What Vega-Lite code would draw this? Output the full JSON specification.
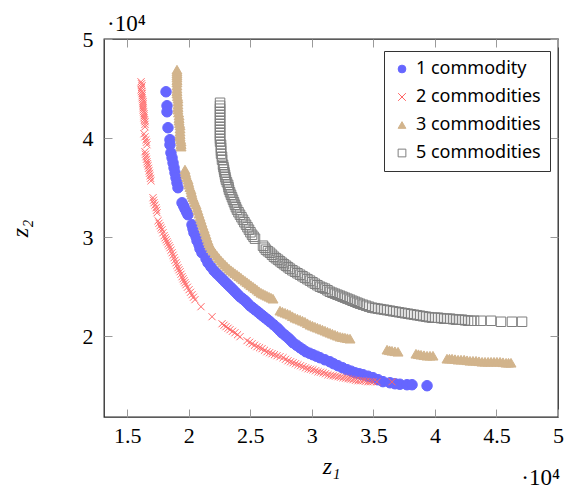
{
  "$schema": "https://vega.github.io/schema/vega-lite/v6.json",
  "width": 454,
  "height": 378,
  "autosize": {"type": "none"},
  "padding": {"left": 104, "top": 39, "right": 8, "bottom": 77},
  "background": "white",
  "config": {
    "view": {"stroke": "#262626", "strokeWidth": 1.3},
    "axis": {"grid": false, "domain": false, "tickColor": "#9a9a9a", "tickWidth": 1, "labelFlush": false, "labelOverlap": false, "labelBound": false, "labelFont": "Liberation Serif", "labelFontSize": 22, "labelFontWeight": "normal", "labelColor": "#000", "titleFont": "Liberation Serif", "titleFontSize": 24, "titleFontStyle": "italic", "titleFontWeight": "normal", "titleColor": "#000"},
    "legend": {"orient": "none", "legendX": 280, "legendY": 12, "strokeColor": "#333", "fillColor": "white", "padding": 9, "labelFont": "Noto Sans", "labelFontSize": 18, "labelColor": "#000", "symbolSize": 60, "symbolStrokeWidth": 1, "rowPadding": 10, "labelOffset": 5, "title": null}
  },
  "datasets": {
    "one": [
      {"x":18150,"y":44670},{"x":18230,"y":43260},{"x":18230,"y":42650},{"x":18310,"y":41040},{"x":18470,"y":39830},{"x":18470,"y":39320},
      {"x":18550,"y":38510},{"x":18640,"y":38010},{"x":18720,"y":37500},{"x":18800,"y":37000},{"x":18880,"y":36490},{"x":18960,"y":35990},{"x":19040,"y":35480},{"x":19120,"y":34980},
      {"x":19450,"y":33460},{"x":19570,"y":33160},{"x":19690,"y":32850},{"x":19810,"y":32550},{"x":19930,"y":32250},
      {"x":20260,"y":31240},{"x":20340,"y":30840},{"x":20420,"y":30430},{"x":20590,"y":30030},{"x":20670,"y":29630},{"x":20830,"y":29220},{"x":20910,"y":28820},{"x":21070,"y":28410},
      {"x":21400,"y":27810},{"x":21560,"y":27400},{"x":21800,"y":27000},{"x":22050,"y":26600},{"x":22290,"y":26290},
      {"x":22540,"y":25990},{"x":22740,"y":25740},{"x":22940,"y":25480},{"x":23150,"y":25230},{"x":23350,"y":24980},{"x":23560,"y":24730},{"x":23760,"y":24470},{"x":23960,"y":24220},{"x":24160,"y":23970},{"x":24370,"y":23770},{"x":24570,"y":23570},{"x":24770,"y":23320},{"x":24970,"y":23060},{"x":25180,"y":22860},{"x":25380,"y":22660},{"x":25590,"y":22460},{"x":25790,"y":22250},{"x":25990,"y":22050},{"x":26190,"y":21850},{"x":26400,"y":21650},{"x":26600,"y":21440},{"x":26890,"y":21140},{"x":27170,"y":20840},{"x":27370,"y":20590},{"x":27570,"y":20330},{"x":27820,"y":20080},{"x":28060,"y":19830},{"x":28270,"y":19580},{"x":28470,"y":19320},{"x":28760,"y":19070},{"x":29040,"y":18820},{"x":29280,"y":18620},{"x":29520,"y":18410},{"x":29810,"y":18260},{"x":30090,"y":18110},{"x":30380,"y":17960},{"x":30660,"y":17810},{"x":31060,"y":17600},{"x":31470,"y":17400},{"x":31770,"y":17200},{"x":32120,"y":17000},{"x":32490,"y":16800},{"x":32860,"y":16600},{"x":33190,"y":16450},{"x":33510,"y":16290},{"x":33840,"y":16190},{"x":34160,"y":16090},{"x":34560,"y":15940},{"x":34970,"y":15790},{"x":35380,"y":15590},{"x":35780,"y":15390},
      {"x":36350,"y":15280},{"x":36760,"y":15180},{"x":37150,"y":15130},{"x":37730,"y":15080},{"x":38140,"y":15080},{"x":39360,"y":14980}
    ],
    "two": [
      {"x":16120,"y":45680},{"x":16160,"y":45480},{"x":16200,"y":45280},{"x":16160,"y":45080},{"x":16120,"y":44870},{"x":16160,"y":44670},{"x":16200,"y":44470},{"x":16200,"y":44260},{"x":16200,"y":44060},{"x":16240,"y":43860},{"x":16280,"y":43660},{"x":16280,"y":43460},{"x":16280,"y":43260},{"x":16280,"y":43050},{"x":16280,"y":42850},{"x":16320,"y":42650},{"x":16360,"y":42450},{"x":16360,"y":42240},{"x":16360,"y":42040},{"x":16400,"y":41840},{"x":16440,"y":41640},{"x":16440,"y":41380},{"x":16440,"y":41130},
      {"x":16360,"y":40430},{"x":16440,"y":40120},{"x":16520,"y":39820},{"x":16560,"y":39570},{"x":16600,"y":39320},
      {"x":16440,"y":38610},{"x":16480,"y":38360},{"x":16520,"y":38110},{"x":16560,"y":37850},{"x":16600,"y":37600},{"x":16640,"y":37400},{"x":16690,"y":37200},{"x":16730,"y":36940},{"x":16770,"y":36690},{"x":16810,"y":36440},{"x":16850,"y":36190},{"x":16890,"y":35930},{"x":16930,"y":35680},
      {"x":17090,"y":33970},{"x":17130,"y":33710},{"x":17170,"y":33460},{"x":17250,"y":33210},{"x":17340,"y":32960},{"x":17380,"y":32700},{"x":17420,"y":32450},
      {"x":17500,"y":31640},{"x":17580,"y":31390},{"x":17660,"y":31140},{"x":17740,"y":30930},{"x":17820,"y":30730},{"x":17900,"y":30430},{"x":17990,"y":30130},{"x":18070,"y":29920},{"x":18150,"y":29720},{"x":18230,"y":29520},{"x":18310,"y":29320},{"x":18390,"y":29120},{"x":18470,"y":28920},{"x":18550,"y":28660},{"x":18640,"y":28410},{"x":18720,"y":28160},{"x":18800,"y":27910},{"x":18880,"y":27650},{"x":18960,"y":27400},{"x":19040,"y":27150},{"x":19120,"y":26900},{"x":19200,"y":26690},{"x":19290,"y":26490},{"x":19370,"y":26240},{"x":19450,"y":25990},{"x":19530,"y":25780},{"x":19610,"y":25580},{"x":19690,"y":25380},{"x":19770,"y":25180},{"x":19890,"y":24930},{"x":20020,"y":24680},{"x":20140,"y":24420},{"x":20260,"y":24170},{"x":20380,"y":23920},{"x":20500,"y":23670},
      {"x":20990,"y":22960},{"x":21890,"y":21950},
      {"x":22700,"y":21240},{"x":22860,"y":21090},{"x":23020,"y":20940},{"x":23190,"y":20790},{"x":23350,"y":20640},{"x":23550,"y":20480},{"x":23750,"y":20330},{"x":23960,"y":20130},{"x":24160,"y":19930},
      {"x":24730,"y":19530},{"x":24940,"y":19370},{"x":25140,"y":19220},{"x":25340,"y":19070},{"x":25540,"y":18920},{"x":25750,"y":18820},{"x":25950,"y":18720},{"x":26150,"y":18560},{"x":26350,"y":18410},{"x":26560,"y":18310},{"x":26760,"y":18210},{"x":26960,"y":18110},{"x":27170,"y":18010},{"x":27410,"y":17910},{"x":27660,"y":17810},{"x":27860,"y":17650},{"x":28060,"y":17500},{"x":28270,"y":17400},{"x":28470,"y":17300},{"x":28670,"y":17200},{"x":28870,"y":17100},{"x":29080,"y":17000},{"x":29280,"y":16900},{"x":29490,"y":16790},{"x":29690,"y":16690},{"x":29890,"y":16640},{"x":30090,"y":16590},{"x":30300,"y":16490},{"x":30500,"y":16390},{"x":30700,"y":16340},{"x":30910,"y":16290},{"x":31110,"y":16190},{"x":31310,"y":16090},{"x":31520,"y":16040},{"x":31720,"y":15990},{"x":31920,"y":15940},{"x":32130,"y":15890},{"x":32330,"y":15840},{"x":32530,"y":15790},{"x":32740,"y":15740},{"x":32940,"y":15690},{"x":33140,"y":15640},{"x":33340,"y":15590},{"x":33550,"y":15530},{"x":33750,"y":15480},{"x":33960,"y":15480},{"x":34160,"y":15480},{"x":34360,"y":15430},{"x":34560,"y":15380},{"x":34770,"y":15380},{"x":34970,"y":15380},{"x":35290,"y":15380},{"x":36510,"y":15380}
    ],
    "three": [
      {"x":19040,"y":46900},{"x":19040,"y":46700},{"x":19040,"y":46500},{"x":19040,"y":46300},{"x":19040,"y":46090},{"x":19040,"y":45840},{"x":19040,"y":45590},{"x":19040,"y":45280},{"x":19040,"y":44980},{"x":19040,"y":44730},{"x":19040,"y":44480},{"x":19080,"y":44220},{"x":19120,"y":43970},{"x":19120,"y":43670},{"x":19120,"y":43370},{"x":19120,"y":43110},{"x":19120,"y":42860},{"x":19170,"y":42560},{"x":19210,"y":42260},{"x":19210,"y":42000},{"x":19210,"y":41750},{"x":19250,"y":41500},{"x":19290,"y":41250},{"x":19290,"y":40940},{"x":19290,"y":40640},{"x":19290,"y":40390},{"x":19290,"y":40140},{"x":19330,"y":39880},{"x":19370,"y":39630},{"x":19370,"y":39380},{"x":19370,"y":39130},
      {"x":19690,"y":36810},{"x":19730,"y":36550},{"x":19770,"y":36300},{"x":19850,"y":36040},{"x":19940,"y":35790},{"x":19980,"y":35540},{"x":20020,"y":35290},{"x":20100,"y":35030},{"x":20180,"y":34780},{"x":20220,"y":34530},{"x":20260,"y":34280},{"x":20340,"y":34020},{"x":20420,"y":33770},{"x":20500,"y":33520},{"x":20590,"y":33270},{"x":20670,"y":32960},{"x":20750,"y":32660},{"x":20830,"y":32350},{"x":20910,"y":32050},{"x":20990,"y":31750},{"x":21070,"y":31450},{"x":21150,"y":31140},{"x":21240,"y":30840},{"x":21320,"y":30540},{"x":21400,"y":30240},{"x":21480,"y":29930},{"x":21560,"y":29630},{"x":21640,"y":29380},{"x":21720,"y":29130},{"x":21840,"y":28870},{"x":21970,"y":28620},{"x":22130,"y":28360},{"x":22290,"y":28110},{"x":22450,"y":27860},{"x":22620,"y":27610},{"x":22780,"y":27400},{"x":22940,"y":27200},{"x":23100,"y":27000},{"x":23270,"y":26800},{"x":23430,"y":26640},{"x":23590,"y":26490},{"x":23750,"y":26340},{"x":23920,"y":26190},{"x":24080,"y":26040},{"x":24240,"y":25890},{"x":24400,"y":25730},{"x":24570,"y":25580},{"x":24730,"y":25430},{"x":24890,"y":25280},{"x":25050,"y":25130},{"x":25220,"y":24980},{"x":25380,"y":24830},{"x":25540,"y":24680},{"x":25700,"y":24520},{"x":25870,"y":24370},{"x":26030,"y":24270},{"x":26190,"y":24170},{"x":26350,"y":24070},{"x":26520,"y":23970},{"x":26680,"y":23870},{"x":26840,"y":23770},
      {"x":27410,"y":22560},{"x":27610,"y":22450},{"x":27820,"y":22350},{"x":28020,"y":22250},{"x":28220,"y":22150},{"x":28420,"y":22000},{"x":28630,"y":21850},{"x":28830,"y":21750},{"x":29040,"y":21650},{"x":29240,"y":21540},{"x":29440,"y":21440},{"x":29640,"y":21290},{"x":29850,"y":21140},{"x":30050,"y":21040},{"x":30250,"y":20940},{"x":30450,"y":20840},{"x":30660,"y":20740},{"x":30860,"y":20640},{"x":31070,"y":20540},{"x":31270,"y":20430},{"x":31470,"y":20330},{"x":31670,"y":20230},{"x":31880,"y":20130},{"x":32080,"y":20030},{"x":32290,"y":19930},{"x":32490,"y":19880},{"x":32690,"y":19830},{"x":32890,"y":19780},{"x":33100,"y":19730},
      {"x":36110,"y":18620},{"x":36310,"y":18560},{"x":36510,"y":18510},{"x":36750,"y":18460},{"x":37000,"y":18410},
      {"x":38460,"y":18210},{"x":38660,"y":18160},{"x":38870,"y":18110},{"x":39110,"y":18060},{"x":39360,"y":18010},{"x":39600,"y":18010},{"x":39840,"y":18010},
      {"x":40980,"y":17710},{"x":41180,"y":17710},{"x":41390,"y":17710},{"x":41630,"y":17660},{"x":41880,"y":17610},{"x":42120,"y":17610},{"x":42370,"y":17610},{"x":42610,"y":17550},{"x":42850,"y":17500},{"x":43090,"y":17500},{"x":43340,"y":17500},{"x":43580,"y":17450},{"x":43830,"y":17400},{"x":44070,"y":17400},{"x":44320,"y":17400},{"x":44560,"y":17400},{"x":44800,"y":17400},{"x":45040,"y":17400},{"x":45290,"y":17400},{"x":45530,"y":17350},{"x":45780,"y":17300},{"x":45980,"y":17300},{"x":46180,"y":17300}
    ],
    "five": [
      {"x":22540,"y":43560},{"x":22540,"y":43260},{"x":22540,"y":42960},{"x":22540,"y":42650},{"x":22540,"y":42350},{"x":22540,"y":42050},{"x":22540,"y":41750},{"x":22540,"y":41440},{"x":22540,"y":41140},{"x":22540,"y":40840},{"x":22540,"y":40540},{"x":22540,"y":40230},{"x":22540,"y":39930},{"x":22540,"y":39630},{"x":22620,"y":39330},{"x":22620,"y":39020},{"x":22620,"y":38720},{"x":22620,"y":38420},{"x":22700,"y":38110},{"x":22700,"y":37810},
      {"x":22780,"y":37300},{"x":22820,"y":37050},{"x":22860,"y":36800},{"x":22900,"y":36540},{"x":22940,"y":36290},{"x":22980,"y":36040},{"x":23020,"y":35790},{"x":23100,"y":35530},{"x":23190,"y":35280},{"x":23230,"y":35030},{"x":23270,"y":34780},{"x":23350,"y":34520},{"x":23430,"y":34270},{"x":23510,"y":34020},{"x":23590,"y":33770},{"x":23670,"y":33510},{"x":23750,"y":33260},{"x":23830,"y":33010},{"x":23920,"y":32760},{"x":24040,"y":32500},{"x":24160,"y":32250},{"x":24280,"y":32000},{"x":24400,"y":31750},{"x":24520,"y":31490},{"x":24650,"y":31240},{"x":24770,"y":30990},{"x":24890,"y":30740},{"x":25010,"y":30480},{"x":25140,"y":30230},{"x":25260,"y":30030},{"x":25380,"y":29830},
      {"x":26030,"y":29120},{"x":26150,"y":28920},{"x":26270,"y":28720},{"x":26430,"y":28560},{"x":26600,"y":28410},{"x":26760,"y":28210},{"x":26920,"y":28010},{"x":27080,"y":27860},{"x":27250,"y":27710},{"x":27410,"y":27550},{"x":27570,"y":27400},{"x":27730,"y":27250},{"x":27900,"y":27100},{"x":28060,"y":26950},{"x":28220,"y":26800},{"x":28420,"y":26640},{"x":28630,"y":26490},{"x":28830,"y":26340},{"x":29040,"y":26190},{"x":29240,"y":26040},{"x":29440,"y":25890},{"x":29640,"y":25740},{"x":29850,"y":25590},{"x":30050,"y":25430},{"x":30250,"y":25280},{"x":30450,"y":25130},{"x":30660,"y":24980},{"x":30860,"y":24880},{"x":31070,"y":24780},{"x":31270,"y":24620},{"x":31470,"y":24470},{"x":31670,"y":24370},{"x":31880,"y":24270},{"x":32080,"y":24170},{"x":32290,"y":24070},{"x":32490,"y":23970},{"x":32690,"y":23870},{"x":32890,"y":23770},{"x":33100,"y":23670},{"x":33300,"y":23560},{"x":33510,"y":23460},{"x":33710,"y":23360},{"x":33910,"y":23260},{"x":34150,"y":23160},{"x":34400,"y":23060},{"x":34640,"y":22960},{"x":34890,"y":22860},{"x":35130,"y":22810},{"x":35370,"y":22760},{"x":35610,"y":22710},{"x":35860,"y":22660},{"x":36100,"y":22610},{"x":36350,"y":22560},{"x":36590,"y":22500},{"x":36840,"y":22450},{"x":37080,"y":22400},{"x":37320,"y":22350},{"x":37560,"y":22300},{"x":37810,"y":22250},{"x":38050,"y":22200},{"x":38300,"y":22150},{"x":38540,"y":22100},{"x":38790,"y":22050},{"x":39030,"y":22000},{"x":39270,"y":21950},{"x":39510,"y":21900},{"x":39760,"y":21850},{"x":40000,"y":21850},{"x":40250,"y":21850},{"x":40490,"y":21800},{"x":40740,"y":21750},{"x":40980,"y":21750},{"x":41230,"y":21750},{"x":41470,"y":21700},{"x":41710,"y":21650},{"x":41950,"y":21650},{"x":42200,"y":21650},{"x":42440,"y":21590},{"x":42690,"y":21540},{"x":42930,"y":21540},{"x":43180,"y":21540},{"x":43740,"y":21540},{"x":44560,"y":21540},{"x":45370,"y":21440},{"x":46260,"y":21440},{"x":47080,"y":21440}
    ]
  },
  "resolve": {"axis": {"x": "independent", "y": "independent"}},
  "layer": [
    {
      "data": {"name": "one"},
      "mark": {"type": "point", "opacity": 1, "size": 110, "strokeWidth": 1},
      "encoding": {
        "x": {"field": "x", "type": "quantitative", "scale": {"domain": [13110, 50000], "nice": false, "zero": false},
              "axis": {"orient": "bottom", "values": [15000, 20000, 25000, 30000, 35000, 40000, 45000, 50000], "labelExpr": "'' + datum.value / 10000", "tickSize": -8, "labelPadding": 16, "title": "z₁", "titlePadding": 8}},
        "y": {"field": "y", "type": "quantitative", "scale": {"domain": [11820, 50000], "nice": false, "zero": false},
              "axis": {"orient": "left", "values": [20000, 30000, 40000, 50000], "labelExpr": "'' + datum.value / 10000", "tickSize": -8, "labelPadding": 19, "title": "z₂", "titlePadding": 50}},
        "shape": {"datum": "1 commodity", "type": "nominal", "scale": {"domain": ["1 commodity", "2 commodities", "3 commodities", "5 commodities"], "range": ["circle", "M-1,-1L1,1M1,-1L-1,1", "triangle-up", "square"]}, "legend": {"labelExpr": "datum.label == '1 commodity' ? '\u00a01 commodity' : datum.label"}},
        "fill": {"datum": "1 commodity", "type": "nominal", "scale": {"domain": ["1 commodity", "2 commodities", "3 commodities", "5 commodities"], "range": ["#6666ff", "transparent", "#d2b48c", "transparent"]}, "legend": {"labelExpr": "datum.label == '1 commodity' ? '\u00a01 commodity' : datum.label"}},
        "stroke": {"datum": "1 commodity", "type": "nominal", "scale": {"domain": ["1 commodity", "2 commodities", "3 commodities", "5 commodities"], "range": ["#6666ff", "#ff6666", "#d2b48c", "#7f7f7f"]}, "legend": {"labelExpr": "datum.label == '1 commodity' ? '\u00a01 commodity' : datum.label"}}
      }
    },
    {
      "data": {"name": "two"},
      "mark": {"type": "point", "opacity": 1, "size": 50, "strokeWidth": 1},
      "encoding": {
        "x": {"field": "x", "type": "quantitative", "axis": {"orient": "top", "values": [15000, 20000, 25000, 30000, 35000, 40000, 45000, 50000], "labels": false, "tickSize": -8, "title": null}},
        "y": {"field": "y", "type": "quantitative", "axis": {"orient": "right", "values": [20000, 30000, 40000, 50000], "labels": false, "tickSize": -8, "title": null}},
        "shape": {"datum": "2 commodities", "type": "nominal"},
        "fill": {"datum": "2 commodities", "type": "nominal"},
        "stroke": {"datum": "2 commodities", "type": "nominal"}
      }
    },
    {
      "data": {"name": "three"},
      "mark": {"type": "point", "opacity": 1, "size": 100, "strokeWidth": 1},
      "encoding": {
        "x": {"field": "x", "type": "quantitative", "axis": null},
        "y": {"field": "y", "type": "quantitative", "axis": null},
        "shape": {"datum": "3 commodities", "type": "nominal"},
        "fill": {"datum": "3 commodities", "type": "nominal"},
        "stroke": {"datum": "3 commodities", "type": "nominal"}
      }
    },
    {
      "data": {"name": "five"},
      "mark": {"type": "point", "opacity": 1, "size": 90, "strokeWidth": 1},
      "encoding": {
        "x": {"field": "x", "type": "quantitative", "axis": null},
        "y": {"field": "y", "type": "quantitative", "axis": null},
        "shape": {"datum": "5 commodities", "type": "nominal"},
        "fill": {"datum": "5 commodities", "type": "nominal"},
        "stroke": {"datum": "5 commodities", "type": "nominal"}
      }
    },
    {
      "data": {"values": [{"t": "·10⁴"}]},
      "mark": {"type": "text", "font": "Liberation Serif", "fontSize": 23, "fontWeight": "normal", "align": "left", "baseline": "alphabetic", "dx": 3, "dy": -8, "color": "#000"},
      "encoding": {
        "text": {"field": "t"},
        "x": {"datum": 13110, "type": "quantitative", "axis": null},
        "y": {"datum": 50000, "type": "quantitative", "axis": null}
      }
    },
    {
      "data": {"values": [{"t": "·10⁴"}]},
      "mark": {"type": "text", "font": "Liberation Serif", "fontSize": 23, "fontWeight": "normal", "align": "right", "baseline": "alphabetic", "dx": 2, "dy": 68, "color": "#000"},
      "encoding": {
        "text": {"field": "t"},
        "x": {"datum": 50000, "type": "quantitative", "axis": null},
        "y": {"datum": 11820, "type": "quantitative", "axis": null}
      }
    }
  ]
}
